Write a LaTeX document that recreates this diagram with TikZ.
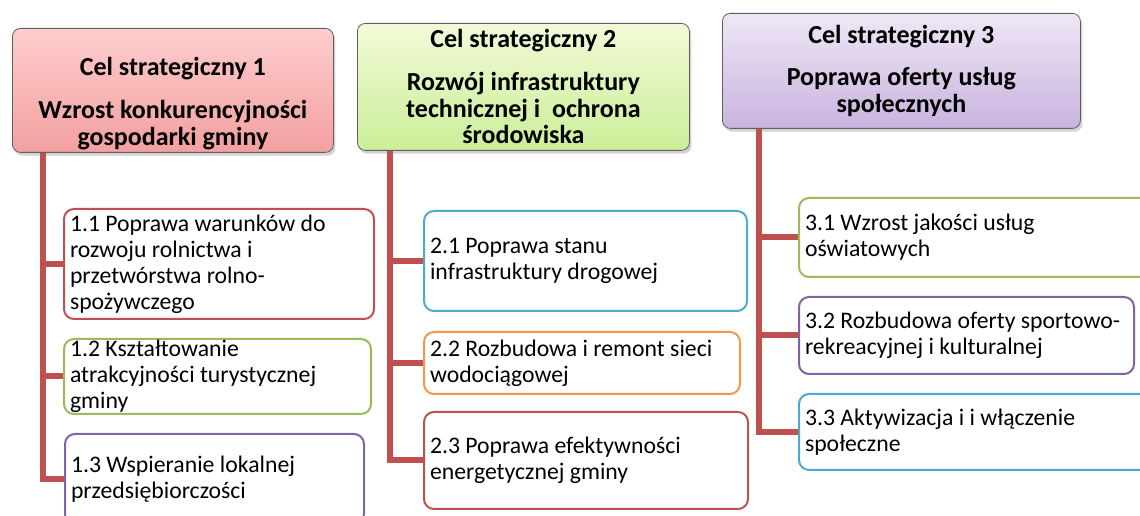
\documentclass[tikz,border=0pt]{standalone}
\usepackage{fontspec}
\setmainfont{Carlito}
\usetikzlibrary{shadows}
\definecolor{trunkred}{HTML}{C0504D}
\definecolor{boxred}{HTML}{C0504D}
\definecolor{boxgreen}{HTML}{9BBB59}
\definecolor{boxlilac}{HTML}{8064A2}
\definecolor{boxblue}{HTML}{4BACC6}
\definecolor{boxorange}{HTML}{F79646}
\definecolor{pinktop}{HTML}{FDCDCD}
\definecolor{pinkbot}{HTML}{F3A0A0}
\definecolor{greentop}{HTML}{F2FAD8}
\definecolor{greenbot}{HTML}{CBEE98}
\definecolor{lilactop}{HTML}{EFE7F5}
\definecolor{lilacbot}{HTML}{C9B3DE}

\begin{document}
\begin{tikzpicture}[x=0.75pt,y=-0.75pt,
  goal text/.style={align=center,font=\fontsize{19.5}{20}\selectfont\bfseries},
  goal/.style n args={2}{draw=gray!75!black,line width=0.6pt,rounded corners=6pt,
    top color=#1,bottom color=#2,anchor=north west,goal text,
    drop shadow={shadow xshift=1.5pt,shadow yshift=-2.5pt,opacity=0.35}},
  task/.style={draw=#1,line width=1.5pt,rounded corners=7.5pt,fill=white,
    anchor=north west,align=flush left,inner xsep=4.5pt,inner ysep=0pt,
    font=\fontsize{17.8}{19.5}\selectfont},
  trunk/.style={draw=trunkred,line width=4.5pt}]

\useasboundingbox (0,0) rectangle (1140,516);
\clip (0,0) rectangle (1140,516);

% strategic goals
\node [goal={pinktop}{pinkbot},minimum width=321*0.75pt,minimum height=124*0.75pt]
  (h1) at (12,28) {};
\node [goal text] (h1txt) at ([yshift=-10pt]h1.center)
  {Cel strategiczny 1\\[12pt]Wzrost konkurencyjności\\gospodarki gminy};
\node [goal={greentop}{greenbot},minimum width=332*0.75pt,minimum height=127*0.75pt]
  (h2) at (357,23) {Cel strategiczny 2\\[12pt]Rozwój infrastruktury\\technicznej i\ \ ochrona\\środowiska};
\node [goal={lilactop}{lilacbot},minimum width=358*0.75pt,minimum height=115*0.75pt]
  (h3) at (722,13) {Cel strategiczny 3\\[12pt]Poprawa oferty usług\\społecznych};

% operational goals
\foreach \name/\x/\y/\w/\h/\col/\txt in {
  c11/63/208/310/110/boxred/{1.1 Poprawa warunków do\\rozwoju rolnictwa i\\przetwórstwa rolno-\\spożywczego},
  c12/63/338/307/75/boxgreen/{1.2 Kształtowanie\\atrakcyjności turystycznej\\gminy},
  c13/64/433/299/90/boxlilac/{1.3 Wspieranie lokalnej\\przedsiębiorczości},
  c21/423/210/323/100/boxblue/{2.1 Poprawa stanu\\infrastruktury drogowej},
  c22/423/331/316/62/boxorange/{2.2 Rozbudowa i remont sieci\\wodociągowej},
  c23/423/411/324/97/boxred/{2.3 Poprawa efektywności\\energetycznej gminy},
  c31/798/197/352/79/boxgreen/{3.1 Wzrost jakości usług\\oświatowych},
  c32/798/296/335/77/boxlilac/{3.2 Rozbudowa oferty sportowo-\\rekreacyjnej i kulturalnej},
  c33/798/393/352/76/boxblue/{3.3 Aktywizacja i i włączenie\\społeczne}}{
  \pgfmathsetmacro\tw{\w*0.75-9}
  \node [task=\col,minimum width=\w*0.75pt,minimum height=\h*0.75pt,text width=\tw pt]
    (\name) at (\x,\y) {\txt};
}

% tree lines
\coordinate (t1) at (43,0);
\coordinate (t2) at (390,0);
\coordinate (t3) at (759,0);
\draw [trunk] (h1.south -| t1) |- (c13.west);
\draw [trunk] (h2.south -| t2) |- (c23.west);
\draw [trunk] (h3.south -| t3) |- (c33.west);
\foreach \t/\c in {t1/c11,t1/c12,t2/c21,t2/c22,t3/c31,t3/c32}
  \draw [trunk] (\t |- \c.west) -- (\c.west);
\end{tikzpicture}
\end{document}
